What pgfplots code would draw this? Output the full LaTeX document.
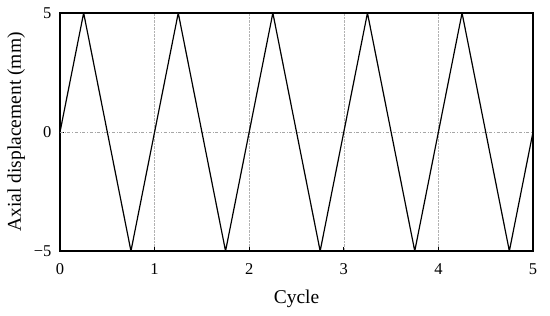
\documentclass[border=0pt]{standalone}
\usepackage{fontspec}
\setmainfont{Liberation Serif}
\usepackage{pgfplots}
\pgfplotsset{compat=1.18}
\begin{document}
\begin{tikzpicture}
  \begin{axis}[
      scale only axis,
      width=473pt, height=238pt,
      xmin=0, xmax=5, ymin=-5, ymax=5,
      xtick={0,1,2,3,4,5},
      ytick={-5,0,5},
      yticklabels={−5,0,5},
      /pgf/number format/assume math mode=true,
      tick label style={font=\fontsize{16.5pt}{18pt}\selectfont},
      x tick label style={yshift=-9pt},
      y tick label style={xshift=-5pt},
      tick align=inside,
      major tick length=4pt,
      tick style={black, line width=0.8pt},
      xtick pos=bottom, ytick pos=left,
      axis line style={line width=1.6pt},
      xmajorgrids,
      grid style={gray!60, densely dotted, line width=0.6pt},
      xlabel={Cycle},
      ylabel={Axial displacement (mm)},
      label style={font=\fontsize{19.5pt}{22pt}\selectfont},
      xlabel style={yshift=-8pt},
      ylabel style={yshift=2pt},
    ]
    \addplot[gray!70, dash dot, line width=1pt] coordinates {(0,0) (5,0)};
    \addplot[black, line width=1.2pt, line join=miter] coordinates {
      (0,0) (0.25,5) (0.75,-5) (1.25,5) (1.75,-5) (2.25,5) (2.75,-5)
      (3.25,5) (3.75,-5) (4.25,5) (4.75,-5) (5,0)
    };
  \end{axis}
  \pgfresetboundingbox
  \path ([shift={(-60pt,-64pt)}]current axis.south west) rectangle ([shift={(17pt,13pt)}]current axis.north east);
\end{tikzpicture}
\end{document}
